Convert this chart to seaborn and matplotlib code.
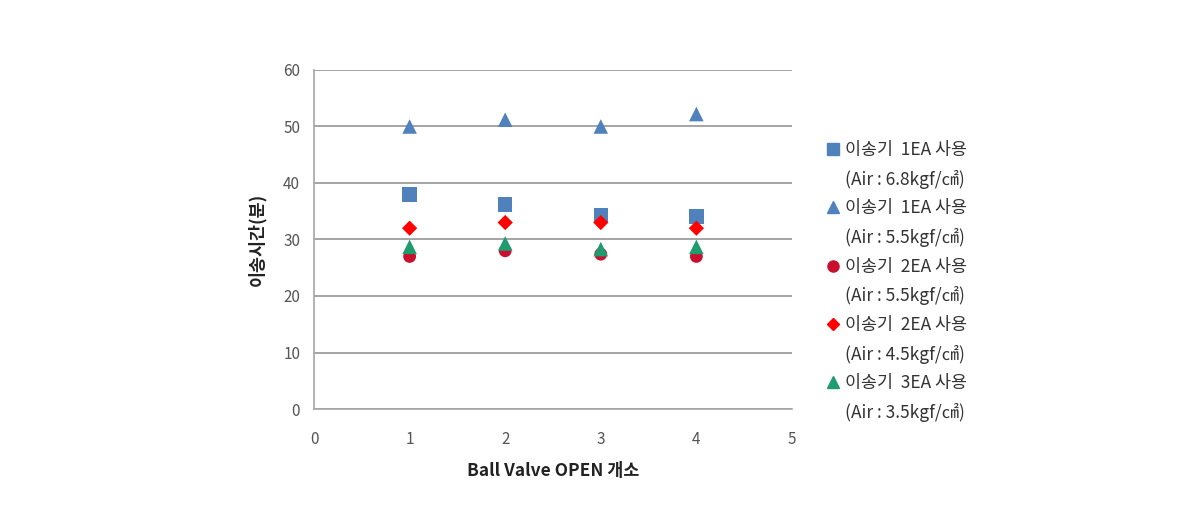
import matplotlib
matplotlib.use("Agg")
import matplotlib.pyplot as plt
import seaborn as sns
import pandas as pd
from matplotlib.lines import Line2D

sns.set_theme(style="white")
plt.rcParams['font.family'] = ['Noto Sans CJK KR', 'DejaVu Sans']

x_vals = [1, 2, 3, 4]
series_names = ["이송기  1EA 사용", "이송기  1EA 사용 ", "이송기  2EA 사용", "이송기  2EA 사용 ", "이송기  3EA 사용"]
air_labels = ["(Air : 6.8kgf/㎠)", "(Air : 5.5kgf/㎠)", "(Air : 5.5kgf/㎠)", "(Air : 4.5kgf/㎠)", "(Air : 3.5kgf/㎠)"]
s1 = [38, 36.2, 34.2, 34.1]
s2 = [50, 51.2, 50, 52.2]
s3 = [27, 28, 27.4, 27]
s4 = [32, 33, 33, 32]
s5 = [28.7, 29.3, 28.3, 28.7]
values = [s1, s2, s3, s4, s5]

colors = ["#4F81BD", "#4F81BD", "#C8102E", "#FF0000", "#1E9C6E"]
markers = ["s", "^", "o", "D", "^"]
sizes = [110, 110, 85, 60, 110]

rows = []
for name, vals in zip(series_names, values):
    for xv, yv in zip(x_vals, vals):
        rows.append({"x": xv, "y": yv, "series": name})
df = pd.DataFrame(rows)

fig = plt.figure(figsize=(11.9, 5.27), dpi=100)
ax = fig.add_axes([0.2639, 0.2239, 0.4016, 0.6433])

for name, c, m, s in zip(series_names, colors, markers, sizes):
    sub = df[df["series"] == name]
    sns.scatterplot(data=sub, x="x", y="y", color=c, marker=m, s=s,
                    edgecolor="none", ax=ax, zorder=3, legend=False)

ax.set_xlim(0, 5)
ax.set_ylim(0, 60)
ax.set_xticks(range(0, 6))
ax.set_yticks(range(0, 61, 10))
ax.yaxis.grid(True, color="#8C8C8C", linewidth=1.1)
ax.xaxis.grid(False)
for sp in ["top", "right"]:
    ax.spines[sp].set_visible(False)
for sp in ["left", "bottom"]:
    ax.spines[sp].set_color("#A6A6A6")
    ax.spines[sp].set_linewidth(1.2)
ax.tick_params(axis="y", length=0, labelsize=11, labelcolor="#555555", pad=10)
ax.tick_params(axis="x", length=0, labelsize=11, labelcolor="#555555", pad=16)
ax.set_xlabel("Ball Valve OPEN 개소", fontsize=12.5, fontweight="bold", color="#222222", labelpad=10)
ax.set_ylabel("이송시간(분)", fontsize=12.5, fontweight="bold", color="#222222", labelpad=12)

handles, labels = [], []
for name, air, c, m in zip(series_names, air_labels, colors, markers):
    ms = 8 if m != "D" else 6
    handles.append(Line2D([], [], linestyle="none", marker=m, color=c, markersize=ms))
    labels.append(name.strip())
    handles.append(Line2D([], [], linestyle="none", marker=None))
    labels.append(air)
leg = fig.legend(handles, labels, loc="upper left", bbox_to_anchor=(0.688, 0.749),
                 frameon=False, fontsize=12.5, handlelength=0.6, handletextpad=0.4,
                 labelspacing=0.615, borderpad=0)
for t in leg.get_texts():
    t.set_color("#333333")

fig.savefig("out.png", dpi=100)
